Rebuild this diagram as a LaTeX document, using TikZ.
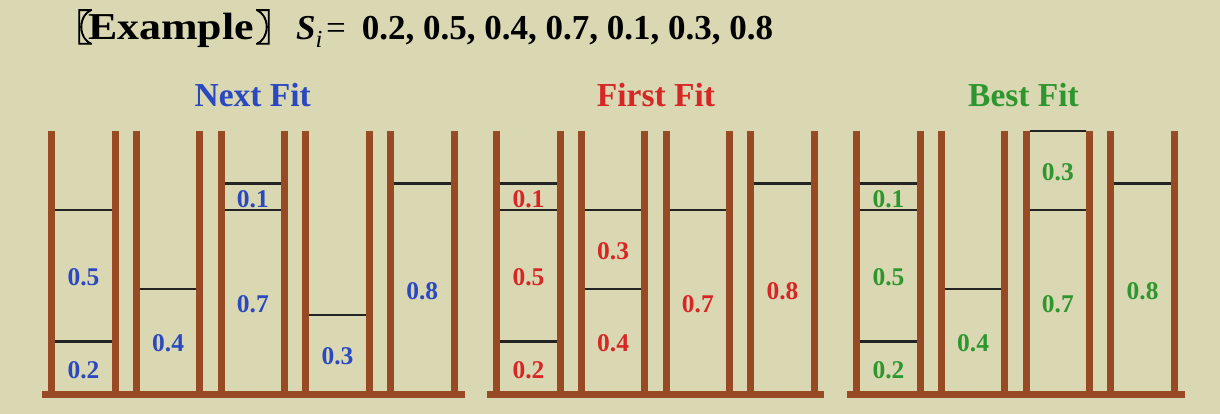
\documentclass[tikz,border=0pt]{standalone}
\usepackage{graphicx}
\usepackage{fontspec}
\setmainfont{Liberation Serif}
\newfontfamily\cjkfont{Noto Sans CJK SC}[FakeBold=2.5]
\definecolor{bg}{RGB}{217,216,178}
\definecolor{binbrown}{RGB}{152,74,36}
\definecolor{nfblue}{RGB}{42,72,192}
\definecolor{ffred}{RGB}{214,38,38}
\definecolor{bfgreen}{RGB}{46,150,46}
\definecolor{levcol}{RGB}{35,35,35}
\tikzset{
  post/.style={draw=binbrown, line width=7pt},
  floorline/.style={draw=binbrown, line width=7pt},
  level/.style={draw=levcol, line width=2.6pt},
  lbl/.style={font=\fontsize{25.5}{25.5}\selectfont\bfseries, inner sep=0pt},
  grouptitle/.style={font=\fontsize{33.5}{33.5}\selectfont\bfseries, anchor=base, inner sep=0pt},
  headtext/.style={anchor=base west, inner sep=0pt},
  bracket/.style={inner sep=0pt, font=\cjkfont\fontsize{37}{37}\selectfont},
}
\begin{document}
\begin{tikzpicture}[x=1pt,y=-1pt]
\useasboundingbox (0,0) rectangle (1220,414);
\fill[bg] (0,0) rectangle (1220,414);

% heading
\node[bracket, anchor=base east] (lb) at (93,41) {〖};
\node[headtext, font=\fontsize{38}{38}\selectfont\bfseries] (ex) at (88,40) {\scalebox{1.155}[1]{Example}};
\node[bracket, anchor=base west] (rb) at (255,41) {〗};
\node[headtext, font=\fontsize{35}{35}\selectfont] (si) at (296,40) {\textbf{\textit{S}}\textsubscript{\textit{i}}};
\node[headtext, font=\fontsize{35}{35}\selectfont] (eq) at (326,40) {=};
\node[headtext, font=\fontsize{35}{35}\selectfont\bfseries] (seq) at (361.7,40) {0.2, 0.5, 0.4, 0.7, 0.1, 0.3, 0.8};

% group titles
\node[grouptitle, text=nfblue] (tnf) at (252.7,107) {Next Fit};
\node[grouptitle, text=ffred] (tff) at (656,107) {First Fit};
\node[grouptitle, text=bfgreen] (tbf) at (1023.5,107) {Best Fit};

% bin posts
\foreach \L in {51.7,136.4,221.1,305.8,390.5,496.7,581.4,666.1,750.8,856.7,941.4,1026.1,1110.8} {
  \draw[post] (\L,131) -- (\L,394);
  \draw[post] (\L+63.5,131) -- (\L+63.5,394);
}
% floors
\draw[floorline] (41.7,394.5) -- (465,394.5);
\draw[floorline] (486.7,394.5) -- (824.3,394.5);
\draw[floorline] (846.7,394.5) -- (1185,394.5);

% level lines
\foreach \L/\v in {51.7/0.2, 51.7/0.7, 136.4/0.4, 221.1/0.7, 221.1/0.8, 305.8/0.3, 390.5/0.8,
                   496.7/0.2, 496.7/0.7, 496.7/0.8, 581.4/0.4, 581.4/0.7, 666.1/0.7, 750.8/0.8,
                   856.7/0.2, 856.7/0.7, 856.7/0.8, 941.4/0.4, 1026.1/0.7, 1026.1/1.0, 1110.8/0.8} {
  \draw[level] (\L+3.5,{394-263*\v}) -- (\L+60,{394-263*\v});
}

% item labels
\foreach \n/\L/\a/\b/\t/\c in {
    nfa/51.7/0/0.2/0.2/nfblue, nfb/51.7/0.2/0.7/0.5/nfblue, nfc/136.4/0/0.4/0.4/nfblue,
    nfd/221.1/0/0.7/0.7/nfblue, nfe/221.1/0.7/0.8/0.1/nfblue, nff/305.8/0/0.3/0.3/nfblue,
    nfg/390.5/0/0.8/0.8/nfblue,
    ffa/496.7/0/0.2/0.2/ffred, ffb/496.7/0.2/0.7/0.5/ffred, ffc/496.7/0.7/0.8/0.1/ffred,
    ffd/581.4/0/0.4/0.4/ffred, ffe/581.4/0.4/0.7/0.3/ffred, fff/666.1/0/0.7/0.7/ffred,
    ffg/750.8/0/0.8/0.8/ffred,
    bfa/856.7/0/0.2/0.2/bfgreen, bfb/856.7/0.2/0.7/0.5/bfgreen, bfc/856.7/0.7/0.8/0.1/bfgreen,
    bfd/941.4/0/0.4/0.4/bfgreen, bfe/1026.1/0/0.7/0.7/bfgreen, bff/1026.1/0.7/1.0/0.3/bfgreen,
    bfg/1110.8/0/0.8/0.8/bfgreen} {
  \node[lbl, text=\c] (\n) at (\L+31.75,{396-131.5*(\a+\b)}) {\t};
}
\end{tikzpicture}
\end{document}
